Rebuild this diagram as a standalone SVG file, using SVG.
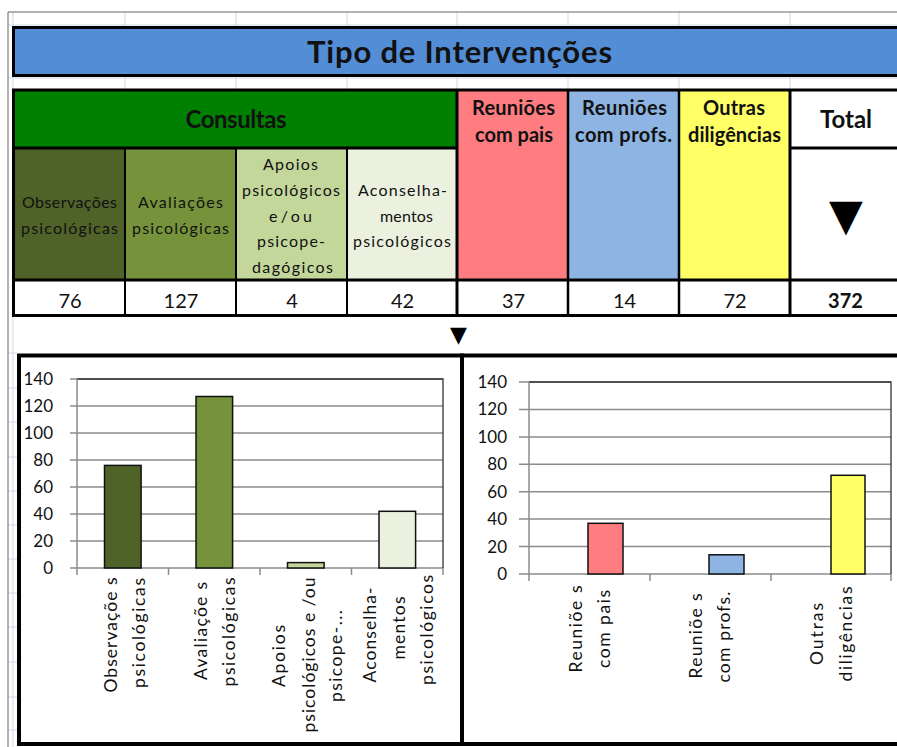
<svg xmlns="http://www.w3.org/2000/svg" width="897" height="747" viewBox="0 0 897 747">
<style>
text{font-family:Lato,"Open Sans","DejaVu Sans",sans-serif;fill:#111}
.b{font-weight:bold}
.t{font-size:31px;font-weight:bold}
.h{font-size:20px;font-weight:bold;text-anchor:middle}
.hl{font-size:24px;font-weight:bold;text-anchor:middle}
.s{font-size:16px;text-anchor:middle}
.v{font-size:20px;text-anchor:middle}
.y{font-size:17px;text-anchor:end}
.x{font-size:17.5px;text-anchor:middle}
.tri{font-family:"DejaVu Sans",sans-serif;fill:#000;text-anchor:middle}
.gl{stroke:#d0d7e5;stroke-width:1;fill:none}
.bd{stroke:#000;fill:none}
.grid{stroke:#8c8c8c;stroke-width:1.5;fill:none}
.bar{stroke:#111;stroke-width:1.5}
</style>
<rect width="897" height="747" fill="#fff"/>
<g id="sheet-grid">
<line class="gl" x1="13" y1="12" x2="13" y2="747"/>
<line class="gl" x1="8" y1="25" x2="897" y2="25"/>
<line class="gl" x1="8" y1="78" x2="897" y2="78"/>
<path class="gl" d="M125 12V90M236 12V90M347 12V90M457 12V90M568 12V90M679 12V90M790 12V90"/>
<path class="gl" d="M8 353H17M8 388H17M8 422H17M8 457H17M8 491H17M8 525H17M8 559H17M8 593H17M8 627H17M8 662H17M8 697H17M8 730H17"/>
<line x1="8" y1="12" x2="897" y2="12" stroke="#666" stroke-width="1"/>
<line x1="8" y1="12" x2="8" y2="747" stroke="#666" stroke-width="1"/>
</g>
<g id="title">
<rect x="13.5" y="27.5" width="900" height="48" fill="#538DD5" stroke="#000" stroke-width="3"/>
<text class="t" x="459.5" y="63" text-anchor="middle" textLength="305">Tipo de Intervenções</text>
</g>
<g id="consultas">
<rect x="12" y="90" width="445" height="58" fill="#008000"/>
<text class="hl" x="236" y="128" textLength="101">Consultas</text>
</g>
<g id="observacoes">
<rect x="12" y="148" width="113" height="132" fill="#4F6228"/>
<text class="s" x="69.5" y="208" textLength="95">Observações</text>
<text class="s" x="69.5" y="234" textLength="97">psicológicas</text>
</g>
<g id="avaliacoes">
<rect x="125" y="148" width="111" height="132" fill="#76933C"/>
<text class="s" x="180.5" y="208" textLength="85">Avaliações</text>
<text class="s" x="180.5" y="234" textLength="97">psicológicas</text>
</g>
<g id="apoios">
<rect x="236" y="148" width="111" height="132" fill="#C4D79B"/>
<text class="s" x="290.5" y="170" textLength="55">Apoios</text>
<text class="s" x="291" y="196" textLength="98">psicológicos</text>
<text class="s" x="290.5" y="222" textLength="43">e/ou</text>
<text class="s" x="291" y="247" textLength="68">psicope-</text>
<text class="s" x="292.5" y="273" textLength="81">dagógicos</text>
</g>
<g id="aconselhamentos">
<rect x="347" y="148" width="110" height="132" fill="#EBF1DE"/>
<text class="s" x="402.5" y="196" textLength="89">Aconselha-</text>
<text class="s" x="406.5" y="222" textLength="53">mentos</text>
<text class="s" x="402" y="247" textLength="98">psicológicos</text>
</g>
<g id="reunioes-pais">
<rect x="457" y="90" width="111" height="190" fill="#FF7C80"/>
<text class="h" x="513.5" y="115" textLength="83">Reuniões</text>
<text class="h" x="514" y="142" textLength="78">com pais</text>
</g>
<g id="reunioes-profs">
<rect x="568" y="90" width="111" height="190" fill="#8DB4E2"/>
<text class="h" x="624.5" y="115" textLength="85">Reuniões</text>
<text class="h" x="623.5" y="142" textLength="97">com profs.</text>
</g>
<g id="outras">
<rect x="679" y="90" width="111" height="190" fill="#FFFF66"/>
<text class="h" x="734" y="115" textLength="62">Outras</text>
<text class="h" x="734.5" y="142" textLength="93">diligências</text>
</g>
<g id="total">
<rect x="790" y="90" width="120" height="190" fill="#fff"/>
<text class="hl" x="846" y="128" textLength="52">Total</text>
<text class="tri" x="846" y="230" font-size="44">▼</text>
</g>
<g id="values">
<rect x="12" y="280" width="900" height="36" fill="#fff"/>
<text class="v" x="70" y="308">76</text>
<text class="v" x="181" y="308">127</text>
<text class="v" x="292" y="308">4</text>
<text class="v" x="402.5" y="308">42</text>
<text class="v" x="513.5" y="308">37</text>
<text class="v" x="624.5" y="308">14</text>
<text class="v" x="735" y="308">72</text>
<text class="v b" x="845.5" y="308">372</text>
</g>
<g id="table-borders">
<path class="bd" stroke-width="3" d="M12 90H897M12 148H457M790 148H897M12 280H897M12 315.5H897M13.5 90V317M457 90V317M790 90V317"/>
<path class="bd" stroke-width="2.5" d="M568 90V317M679 90V317"/>
<path class="bd" stroke-width="2" d="M125 148V316M236 148V316M347 148V316"/>
</g>
<g id="connectors">
<text class="tri" x="458.5" y="342" font-size="22">▼</text>
</g>
<g id="chart-consultas">
<rect x="19" y="355.5" width="443" height="388.5" fill="#fff" stroke="#000" stroke-width="4"/>
<path class="grid" d="M70 379H443M70 406H443M70 433H443M70 460H443M70 487H443M70 514H443M70 541H443M70 568H443"/>
<path d="M77 379H443V568" fill="none" stroke="#333" stroke-width="1.3"/>
<path class="grid" d="M77 379V568M77 568V575M168.5 568V575M260 568V575M351.5 568V575M443 568V575"/>
<rect class="bar" x="104.5" y="465.4" width="36.6" height="102.6" fill="#4F6228"/>
<rect class="bar" x="196" y="396.5" width="36.6" height="171.5" fill="#76933C"/>
<rect class="bar" x="287.5" y="562.6" width="36.6" height="5.4" fill="#C4D79B"/>
<rect class="bar" x="379" y="511.3" width="36.6" height="56.7" fill="#EBF1DE"/>
<text class="y" x="53" y="385">140</text>
<text class="y" x="53" y="412">120</text>
<text class="y" x="53" y="439">100</text>
<text class="y" x="53" y="466">80</text>
<text class="y" x="53" y="493">60</text>
<text class="y" x="53" y="520">40</text>
<text class="y" x="53" y="547">20</text>
<text class="y" x="53" y="574">0</text>
<text class="x" transform="translate(117,635) rotate(-90)" textLength="115">Observaçõe s</text>
<text class="x" transform="translate(145,633) rotate(-90)" textLength="110">psicológicas</text>
<text class="x" transform="translate(207,631) rotate(-90)" textLength="98">Avaliaçõe s</text>
<text class="x" transform="translate(235,632) rotate(-90)" textLength="109">psicológicas</text>
<text class="x" transform="translate(285,656) rotate(-90)" textLength="62">Apoios</text>
<text class="x" transform="translate(315,655) rotate(-90)" textLength="155">psicológicos e /ou</text>
<text class="x" transform="translate(342,656) rotate(-90)" textLength="92">psicope-...</text>
<text class="x" transform="translate(376,635) rotate(-90)" textLength="95">Aconselha-</text>
<text class="x" transform="translate(405,628) rotate(-90)" textLength="63">mentos</text>
<text class="x" transform="translate(433,630) rotate(-90)" textLength="110">psicológicos</text>
</g>
<g id="chart-outros">
<rect x="462" y="355.5" width="460" height="388.5" fill="#fff" stroke="#000" stroke-width="4"/>
<path class="grid" d="M519 382H891M519 409.4H891M519 436.9H891M519 464.3H891M519 491.7H891M519 519.1H891M519 546.6H891M519 574H891"/>
<path d="M529 382H891V574" fill="none" stroke="#333" stroke-width="1.3"/>
<path class="grid" d="M529 382V574M529 574V581M650 574V581M771 574V581M891 574V581"/>
<rect class="bar" x="588" y="523.3" width="35" height="50.7" fill="#FF7C80"/>
<rect class="bar" x="709" y="554.8" width="35" height="19.2" fill="#8DB4E2"/>
<rect class="bar" x="831" y="475.3" width="34" height="98.7" fill="#FFFF66"/>
<text class="y" x="507" y="388">140</text>
<text class="y" x="507" y="415.4">120</text>
<text class="y" x="507" y="442.9">100</text>
<text class="y" x="507" y="470.3">80</text>
<text class="y" x="507" y="497.7">60</text>
<text class="y" x="507" y="525.1">40</text>
<text class="y" x="507" y="552.6">20</text>
<text class="y" x="507" y="580">0</text>
<text class="x" transform="translate(582,629) rotate(-90)" textLength="87">Reuniõe s</text>
<text class="x" transform="translate(610,629) rotate(-90)" textLength="78">com pais</text>
<text class="x" transform="translate(702,636) rotate(-90)" textLength="85">Reuniõe s</text>
<text class="x" transform="translate(730,637) rotate(-90)" textLength="91">com profs.</text>
<text class="x" transform="translate(823,634) rotate(-90)" textLength="62">Outras</text>
<text class="x" transform="translate(852,634) rotate(-90)" textLength="95">diligências</text>
</g>
</svg>
